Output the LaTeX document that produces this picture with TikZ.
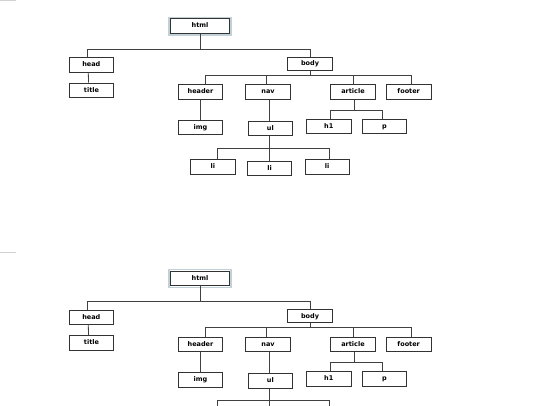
\documentclass[tikz,border=0pt]{standalone}
\usepackage{fontspec}
\setmainfont{DejaVu Sans}
\tikzset{
  box/.style={draw=black!80, line width=0.9pt, fill=white, minimum width=44.5pt,
    minimum height=14.5pt, inner sep=0pt, text height=4.9pt, text depth=1.3pt,
    font=\bfseries\fontsize{6.5}{7.5}\selectfont},
  link/.style={draw=black!75, line width=0.8pt},
  halo/.style={draw=cyan!25!gray!45, line width=1.2pt},
  sep/.style={draw=gray!35, line width=0.8pt}
}
\newif\ifwithli
\newcommand\htmltree{%
  \coordinate (bus1) at (0,49.3);
  \coordinate (bus2) at (0,75.2);
  \coordinate (bus3) at (0,110);
  \coordinate (bus4) at (0,148.3);
  \node[box, minimum width=58.6pt, minimum height=14.3pt] (html) at (200,26) {html};
  \draw[halo] ([shift={(-1.3,-1.3)}]html.north west) rectangle ([shift={(1.3,1.3)}]html.south east);
  \node[box] (head)    at (91.3,64.8)  {head};
  \node[box] (title)   at (91.5,90.3)  {title};
  \node[box, minimum height=13pt] (body) at (310,63.7) {body};
  \node[box] (header)  at (200.5,92)   {header};
  \node[box] (nav)     at (268,92)     {nav};
  \node[box] (article) at (353,92)     {article};
  \node[box] (footer)  at (408.7,92)   {footer};
  \node[box] (img)     at (200.5,127.5){img};
  \node[box] (ul)      at (270.3,128.3){ul};
  \node[box] (h1)      at (328.8,126.5){h1};
  \node[box] (p)       at (384.5,126.5){p};
  \ifwithli
    \node[box] (li1) at (212.8,166.7){li};
    \node[box] (li2) at (269.5,168.5){li};
    \node[box] (li3) at (327.2,166.7){li};
  \else
    \coordinate (li1) at (212.8,159.3);
    \coordinate (li2) at (269.5,161);
    \coordinate (li3) at (327.2,159.3);
  \fi
  % html
  \draw[link] (html.south) -- (html.south |- bus1);
  \draw[link] ([xshift=-4pt]head.north) |- ([xshift=0.7pt]body.north |- bus1) -- ([xshift=0.7pt]body.north);
  \draw[link] ([xshift=-3pt]head.south) -- ([xshift=-3pt]title.north);
  % body
  \draw[link] ([xshift=0.7pt]body.south) -- ([xshift=0.7pt]body.south |- bus2);
  \draw[link] ([xshift=5.2pt]header.north) |- ([xshift=2.6pt]footer.north |- bus2) -- ([xshift=2.6pt]footer.north);
  \draw[link] ([xshift=-1.3pt]nav.north) -- ([xshift=-1.3pt]nav.north |- bus2);
  \draw[link] (article.north) -- (article.north |- bus2);
  \draw[link] ([xshift=-0.5pt]header.south) -- ([xshift=-0.5pt]img.north);
  \draw[link] ([xshift=-1pt]ul.north) -- ([xshift=-1pt]ul.north |- nav.south);
  % article
  \draw[link] ([xshift=1.3pt]article.south) -- ([xshift=1.3pt]article.south |- bus3);
  \draw[link] ([xshift=1.2pt]h1.north) |- ([xshift=-1.8pt]p.north |- bus3) -- ([xshift=-1.8pt]p.north);
  % ul
  \draw[link] ([xshift=-0.8pt]ul.south) -- (li2.north);
  \draw[link] ([xshift=4.5pt]li1.north) |- ([xshift=2.1pt]li3.north |- bus4) -- ([xshift=2.1pt]li3.north);
}
\begin{document}
\begin{tikzpicture}[x=1pt,y=-1pt]
  \useasboundingbox (0,0) rectangle (540,405);
  \clip (0,0) rectangle (540,405);
  \fill[white] (0,0) rectangle (540,405);
  \draw[sep] (0,0.6) -- (16,0.6);
  \draw[sep] (0,252.3) -- (16,252.3);
  \withlitrue
  \begin{scope}[name prefix=a-]
    \htmltree
  \end{scope}
  \withlifalse
  \begin{scope}[yshift=-252.5pt, name prefix=b-]
    \htmltree
  \end{scope}
\end{tikzpicture}
\end{document}
